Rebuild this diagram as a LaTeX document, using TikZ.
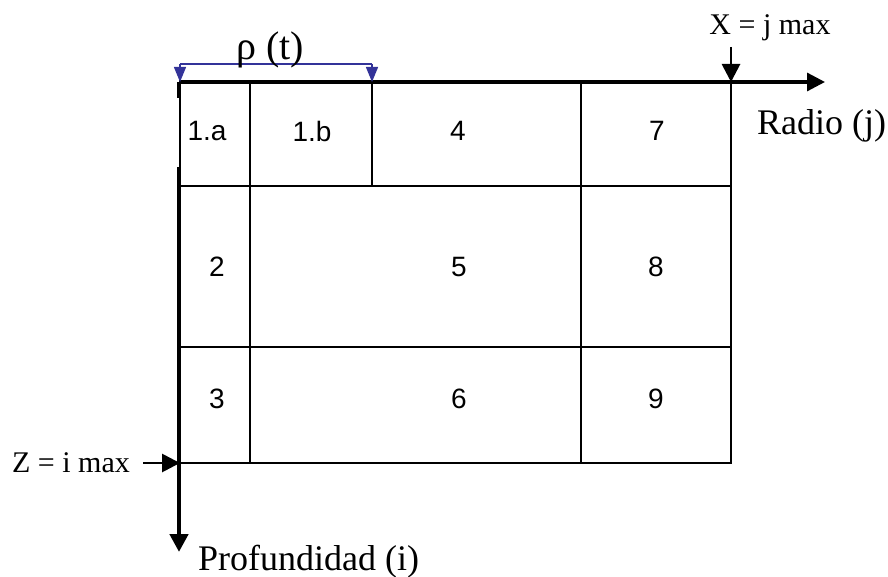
\documentclass[tikz,border=0pt]{standalone}
\usepackage{fontspec}
\setmainfont{Liberation Serif}
\newfontfamily\cellfont{Liberation Sans}
\usetikzlibrary{arrows.meta}
\definecolor{rhoblue}{RGB}{51,51,153}
\tikzset{
  gridline/.style={line width=2.6pt, black},
  axisline/.style={line width=3.2pt, black},
  bigtip/.style={-{Triangle[length=18pt,width=18pt]}},
  bluearrow/.style={rhoblue, line width=1.3pt, -{Triangle[length=15pt,width=12pt]}},
  celllabel/.style={inner sep=0pt, font=\cellfont\fontsize{28}{32}\selectfont},
  axislabel/.style={inner sep=0pt, anchor=base west, font=\fontsize{36}{40}\selectfont},
  maxlabel/.style={inner sep=0pt, anchor=base, font=\fontsize{30}{34}\selectfont},
}
\begin{document}
\begin{tikzpicture}[x=1pt,y=-1pt]
\useasboundingbox (0,0) rectangle (888,577);
% grid
\draw[gridline] (180,82) rectangle (731,463);
\draw[gridline] (180,186) -- (731,186);
\draw[gridline] (180,347) -- (731,347);
\draw[gridline] (250,82) -- (250,463);
\draw[gridline] (372,82) -- (372,186);
\draw[gridline] (581,82) -- (581,463);
% coordinates
\coordinate (O) at (179,82);
\coordinate (Xend) at (825,82);
\coordinate (Yend) at (179,552);
\coordinate (Ygap1) at (179,98);
\coordinate (Ygap2) at (179,167);
\coordinate (Jmax) at (731,82);
\coordinate (JmaxS) at (731,47);
\coordinate (Imax) at (180,463);
\coordinate (ImaxS) at (143,463);
\coordinate (rhoA) at (180,82);
\coordinate (rhoB) at (372,82);
\coordinate (rhoAs) at (180,64);
\coordinate (rhoBs) at (372,64);
% axes
\draw[axisline, bigtip] (O) -- (Xend);
\draw[line width=4.5pt] (O) -- (Ygap1);
\draw[line width=4.5pt, bigtip] (Ygap2) -- (Yend);
\draw[line width=2.8pt, -{Triangle[length=18pt,width=18pt]}] (JmaxS) -- (Jmax);
\draw[line width=2.8pt, -{Triangle[length=18pt,width=18pt]}] (ImaxS) -- (Imax);
% rho(t)
\draw[rhoblue, line width=1.3pt] (rhoAs) -- (rhoBs);
\draw[bluearrow] (rhoAs) -- (rhoA);
\draw[bluearrow] (rhoBs) -- (rhoB);
\node[inner sep=0pt, anchor=base, font=\fontsize{40}{44}\selectfont] (rho) at (270,60) {ρ (t)};
% labels
\node[axislabel] (radio) at (757,135) {Radio (j)};
\node[axislabel] (prof) at (198,570) {Profundidad (i)};
\node[maxlabel] (xmax) at (770,35) {X = j max};
\node[maxlabel] (zmax) at (71,472) {Z = i max};
% cell labels
\node[celllabel] (c1a) at (207,131) {1.a};
\node[celllabel] (c1b) at (312,131) {1.b};
\node[celllabel] (c4) at (458,131) {4};
\node[celllabel] (c7) at (657,131) {7};
\node[celllabel] (c2) at (217,267) {2};
\node[celllabel] (c5) at (459,267) {5};
\node[celllabel] (c8) at (656,267) {8};
\node[celllabel] (c3) at (217,399) {3};
\node[celllabel] (c6) at (459,399) {6};
\node[celllabel] (c9) at (656,399) {9};
\end{tikzpicture}
\end{document}
